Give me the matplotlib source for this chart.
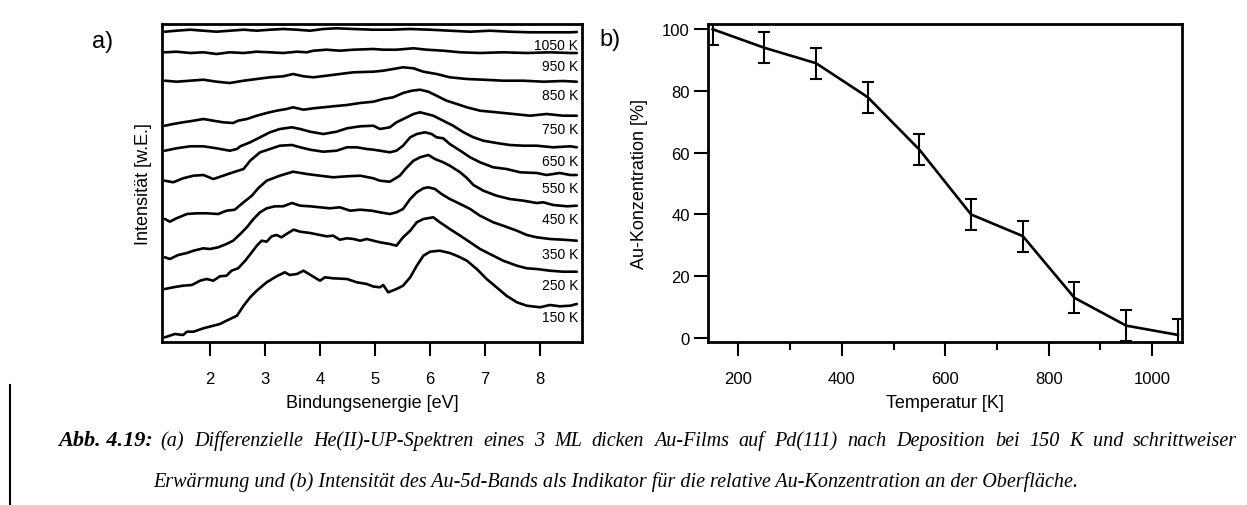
import matplotlib
matplotlib.use("Agg")
import matplotlib.pyplot as plt
from matplotlib.lines import Line2D

W, H = 1247, 506
plt.rcParams['font.family'] = ['Liberation Sans', 'DejaVu Sans']

# ---------------- (a) He(II)-UP difference spectra, stacked ----------------
temperatures = [150, 250, 350, 450, 550, 650, 750, 850, 950, 1050]

e_150 = [1.18, 1.36, 1.51, 1.58, 1.70, 1.88, 2.06, 2.18, 2.30, 2.49, 2.61, 2.73, 2.85, 3.03, 3.21, 3.36, 3.45,
         3.58, 3.70, 3.85, 4.00, 4.09, 4.24, 4.49, 4.67, 4.85, 4.97, 5.09, 5.15, 5.24, 5.39, 5.51, 5.64, 5.76,
         5.88, 6.00, 6.18, 6.36, 6.51, 6.67, 6.85, 7.03, 7.21, 7.39, 7.58, 7.76, 8.00, 8.18, 8.36, 8.55, 8.67]
i_150 = [4.7, 8.0, 7.0, 10.3, 10.3, 13.7, 16.3, 18.0, 21.3, 26.3, 36.3, 44.7, 51.3, 59.7, 65.7, 69.7, 67.0,
         68.0, 71.3, 66.3, 61.3, 64.7, 63.7, 63.0, 59.7, 58.0, 55.5, 54.7, 57.0, 49.7, 53.0, 56.3, 64.7, 76.3,
         86.3, 90.3, 91.3, 89.0, 85.7, 81.3, 73.0, 63.0, 54.7, 46.3, 39.7, 36.3, 34.7, 37.0, 35.7, 36.3, 38.0]

e_250 = [1.18, 1.33, 1.51, 1.67, 1.82, 1.94, 2.06, 2.18, 2.30, 2.39, 2.51, 2.64, 2.76, 2.85, 2.94, 3.03, 3.12,
         3.21, 3.30, 3.39, 3.52, 3.64, 3.82, 4.00, 4.12, 4.24, 4.36, 4.49, 4.61, 4.73, 4.85, 4.97, 5.09, 5.27,
         5.39, 5.51, 5.64, 5.76, 5.88, 6.06, 6.18, 6.36, 6.55, 6.73, 6.91, 7.15, 7.33, 7.58, 7.76, 7.94, 8.18,
         8.42, 8.67]
i_250 = [53.0, 54.7, 56.3, 57.0, 61.3, 63.0, 61.3, 65.7, 66.3, 71.3, 73.7, 81.3, 89.7, 96.3, 101.3, 100.3,
         105.7, 107.0, 104.7, 108.0, 112.3, 110.3, 109.0, 107.0, 105.7, 106.3, 102.3, 103.7, 103.0, 101.3,
         103.0, 101.3, 99.7, 98.0, 96.3, 104.7, 111.3, 119.7, 123.0, 124.7, 119.7, 113.0, 106.3, 99.7, 93.0,
         86.3, 81.3, 76.3, 73.7, 73.0, 71.3, 70.3, 70.3]

e_350 = [1.18, 1.27, 1.42, 1.58, 1.70, 1.88, 2.00, 2.15, 2.30, 2.42, 2.55, 2.67, 2.79, 2.91, 3.03, 3.18, 3.33,
         3.49, 3.64, 3.82, 4.00, 4.18, 4.36, 4.55, 4.73, 4.94, 5.09, 5.27, 5.39, 5.51, 5.64, 5.76, 5.88, 5.97,
         6.09, 6.21, 6.36, 6.55, 6.73, 6.91, 7.15, 7.33, 7.58, 7.76, 7.94, 8.18, 8.42, 8.67]
i_350 = [84.7, 83.0, 87.0, 89.0, 91.3, 93.7, 93.0, 94.7, 98.0, 101.3, 108.0, 114.7, 123.0, 129.7, 133.7,
         135.7, 135.7, 139.0, 136.3, 135.7, 134.7, 133.7, 134.7, 131.3, 132.3, 131.3, 129.7, 128.0, 129.7,
         133.0, 143.0, 149.7, 153.7, 154.7, 153.0, 148.0, 143.0, 138.0, 133.0, 126.3, 119.7, 116.3, 111.3,
         107.0, 104.7, 103.0, 102.3, 101.3]

e_450 = [1.18, 1.27, 1.39, 1.58, 1.76, 1.94, 2.15, 2.30, 2.45, 2.61, 2.76, 2.88, 3.03, 3.27, 3.51, 3.76, 4.00,
         4.24, 4.49, 4.73, 4.97, 5.09, 5.27, 5.45, 5.58, 5.70, 5.82, 5.97, 6.09, 6.24, 6.36, 6.55, 6.67, 6.79,
         6.97, 7.21, 7.45, 7.70, 7.94, 8.06, 8.24, 8.49, 8.67]
i_450 = [123.0, 120.3, 123.7, 128.0, 128.7, 128.7, 128.0, 131.3, 132.3, 139.7, 146.3, 154.0, 161.3, 166.3,
         170.3, 168.0, 166.3, 164.7, 165.7, 166.3, 163.7, 161.3, 160.3, 166.3, 174.7, 181.3, 184.7, 187.0,
         183.0, 179.7, 176.3, 169.7, 164.0, 157.0, 151.3, 146.3, 143.0, 141.3, 139.0, 139.7, 137.0, 135.7,
         136.3]

e_550 = [1.18, 1.33, 1.51, 1.70, 1.88, 2.06, 2.24, 2.42, 2.61, 2.73, 2.91, 3.09, 3.27, 3.49, 3.64, 3.82, 4.06,
         4.30, 4.49, 4.67, 4.85, 4.97, 5.09, 5.27, 5.39, 5.51, 5.64, 5.76, 5.91, 6.03, 6.12, 6.24, 6.36, 6.55,
         6.73, 6.91, 7.15, 7.39, 7.64, 7.94, 8.12, 8.36, 8.55, 8.67]
i_550 = [161.3, 159.7, 163.7, 166.3, 167.0, 163.0, 166.3, 169.7, 173.0, 181.3, 189.7, 193.0, 196.3, 197.0,
         194.7, 192.3, 190.3, 191.3, 194.7, 194.7, 193.0, 192.3, 191.3, 189.7, 191.3, 196.3, 204.7, 208.0,
         209.7, 208.0, 204.7, 203.7, 198.0, 191.3, 184.7, 179.7, 174.7, 173.0, 169.7, 169.0, 167.0, 169.0,
         167.0, 167.0]

e_650 = [1.18, 1.39, 1.64, 1.88, 2.12, 2.36, 2.49, 2.55, 2.73, 2.91, 3.09, 3.27, 3.49, 3.64, 3.82, 4.06, 4.30,
         4.49, 4.73, 4.97, 5.09, 5.27, 5.39, 5.58, 5.70, 5.82, 5.94, 6.06, 6.24, 6.42, 6.61, 6.79, 6.97, 7.21,
         7.45, 7.70, 7.94, 8.24, 8.55, 8.67]
i_650 = [191.3, 193.7, 195.7, 195.7, 193.7, 191.3, 193.0, 195.7, 199.7, 204.7, 209.7, 213.0, 214.7, 213.0,
         210.3, 208.0, 210.3, 213.7, 215.7, 216.3, 213.0, 214.7, 219.7, 224.7, 228.0, 229.7, 228.0, 226.3,
         221.3, 216.3, 209.7, 204.7, 201.3, 199.0, 197.0, 196.3, 196.3, 194.7, 195.7, 194.7]

e_750 = [1.18, 1.33, 1.51, 1.70, 1.88, 2.06, 2.24, 2.42, 2.51, 2.67, 2.85, 3.03, 3.21, 3.39, 3.51, 3.70, 3.88,
         4.06, 4.24, 4.49, 4.73, 4.97, 5.15, 5.33, 5.51, 5.67, 5.82, 5.97, 6.12, 6.30, 6.49, 6.67, 6.91, 7.21,
         7.52, 7.82, 8.12, 8.42, 8.67]
i_750 = [216.3, 218.0, 219.7, 221.3, 223.0, 221.3, 219.7, 219.0, 221.3, 223.0, 226.3, 229.0, 231.3, 233.0,
         234.7, 232.3, 233.7, 234.7, 235.7, 237.0, 239.0, 240.3, 243.0, 244.7, 249.0, 251.3, 252.3, 250.3,
         246.3, 241.3, 238.0, 234.7, 231.3, 229.7, 228.0, 226.3, 228.0, 226.3, 226.3]

e_850 = [1.18, 1.39, 1.64, 1.88, 2.12, 2.36, 2.61, 2.85, 3.09, 3.33, 3.51, 3.70, 3.88, 4.12, 4.36, 4.61, 4.97,
         5.15, 5.33, 5.51, 5.70, 5.88, 6.12, 6.36, 6.67, 6.97, 7.33, 7.70, 8.06, 8.42, 8.67]
i_850 = [261.3, 260.3, 261.3, 262.3, 260.3, 259.0, 261.3, 263.0, 264.7, 265.7, 268.0, 265.7, 264.7, 266.3,
         268.0, 269.7, 270.3, 271.3, 273.0, 274.7, 273.7, 270.3, 268.0, 264.7, 263.0, 262.3, 261.3, 261.3,
         260.3, 261.0, 260.3]

e_950 = [1.18, 1.39, 1.64, 1.88, 2.12, 2.36, 2.61, 2.85, 3.09, 3.33, 3.58, 3.76, 3.88, 4.12, 4.36, 4.61, 4.97,
         5.15, 5.39, 5.70, 5.94, 6.24, 6.55, 6.91, 7.33, 7.76, 8.18, 8.55, 8.67]
i_950 = [289.7, 290.3, 289.0, 289.7, 288.0, 289.7, 289.0, 290.3, 289.7, 289.0, 290.3, 289.7, 291.3, 292.3,
         291.3, 292.3, 293.0, 292.3, 292.3, 293.7, 292.3, 291.3, 289.7, 289.0, 289.7, 289.0, 289.7, 289.0,
         289.0]

e_1050 = [1.18, 1.39, 1.64, 1.88, 2.12, 2.36, 2.61, 2.85, 3.09, 3.33, 3.58, 3.82, 4.06, 4.30, 4.61, 4.97, 5.27,
          5.64, 6.00, 6.36, 6.73, 7.09, 7.45, 7.82, 8.18, 8.55, 8.67]
i_1050 = [310.3, 311.3, 312.3, 311.3, 310.3, 311.3, 312.3, 311.3, 312.3, 313.0, 312.3, 311.3, 313.0, 313.7,
          313.0, 312.3, 312.3, 313.0, 312.3, 311.3, 310.3, 311.3, 310.3, 309.7, 309.7, 309.7, 310.0]

spectra = {150: (e_150, i_150), 250: (e_250, i_250), 350: (e_350, i_350), 450: (e_450, i_450),
           550: (e_550, i_550), 650: (e_650, i_650), 750: (e_750, i_750), 850: (e_850, i_850),
           950: (e_950, i_950), 1050: (e_1050, i_1050)}
energy_ticks = [2, 3, 4, 5, 6, 7, 8]

# ---------------- (b) Au concentration vs. annealing temperature ----------------
anneal_temp = [150, 250, 350, 450, 550, 650, 750, 850, 950, 1050]
au_conc = [100, 94, 89, 78, 61, 40, 33, 13, 4, 1]
au_err = [5, 5, 5, 5, 5, 5, 5, 5, 5, 5]
temp_major = [200, 400, 600, 800, 1000]
temp_minor = [300, 500, 700, 900]
conc_ticks = [0, 20, 40, 60, 80, 100]

fig = plt.figure(figsize=(W / 100, H / 100), dpi=100)
ax_a = fig.add_axes([162 / W, 1 - 343 / H, 420 / W, 318 / H])
ax_b = fig.add_axes([708 / W, 1 - 343 / H, 474 / W, 318 / H])

for T in temperatures:
    e, inten = spectra[T]
    ax_a.plot(e, inten, color='black', lw=1.9, solid_joinstyle='round', solid_capstyle='round')
    ax_a.text(8.70, inten[-1] - 13.5, f"{T} K", ha='right', va='center', fontsize=10)

ax_a.set_xlim(1.127, 8.764)
ax_a.set_ylim(0, 318)
ax_a.set_xticks(energy_ticks)
ax_a.set_yticks([])
ax_a.tick_params(axis='x', direction='out', length=10, width=1.5, pad=11, labelsize=12)
ax_a.set_xlabel('Bindungsenergie [eV]', fontsize=13, labelpad=6)

ax_b.plot(anneal_temp, au_conc, color='black', lw=1.9)
ax_b.errorbar(anneal_temp, au_conc, yerr=au_err, fmt='none', ecolor='black',
              elinewidth=1.5, capsize=4.5, capthick=1.5)
ax_b.set_xlim(141, 1058)
ax_b.set_ylim(-1.3, 101.7)
ax_b.set_xticks(temp_major)
ax_b.set_xticks(temp_minor, minor=True)
ax_b.set_yticks(conc_ticks)
ax_b.tick_params(axis='both', which='major', direction='out', length=10, width=1.5, labelsize=12)
ax_b.tick_params(axis='x', which='major', pad=11)
ax_b.tick_params(axis='y', which='major', pad=3)
ax_b.tick_params(axis='x', which='minor', direction='out', length=6, width=1.5)
ax_b.set_xlabel('Temperatur [K]', fontsize=13, labelpad=6)

for ax in (ax_a, ax_b):
    for s in ax.spines.values():
        s.set_linewidth(2)

fig.text(143 / W, 1 - 184 / H, 'Intensität [w.E.]', rotation=90, ha='center', va='center', fontsize=13)
fig.text(640 / W, 1 - 184 / H, 'Au-Konzentration [%]', rotation=90, ha='center', va='center', fontsize=13)
fig.text(103 / W, 1 - 42 / H, 'a)', ha='center', va='center', fontsize=17)
fig.text(610 / W, 1 - 40 / H, 'b)', ha='center', va='center', fontsize=17)

# ---------------- caption with justified first line ----------------
fig.add_artist(Line2D([10 / W, 10 / W], [0, 1 - 386 / H], color='black', lw=1.5))

cap_kw = dict(family='Liberation Serif', style='italic', fontsize=14.5, va='baseline', ha='left')
fig.canvas.draw()
renderer = fig.canvas.get_renderer()

y1, y2 = 446, 487
t_abb = fig.text(58 / W, 1 - y1 / H, 'Abb. 4.19:', weight='bold', **{**cap_kw, 'fontsize': 16})
x_start = 58 + t_abb.get_window_extent(renderer).width + 8
x_end = 1237

line1 = "(a) Differenzielle He(II)-UP-Spektren eines 3 ML dicken Au-Films auf Pd(111) " \
        "nach Deposition bei 150 K und schrittweiser"
words = line1.split()
texts = [fig.text(0, 1 - y1 / H, w, **cap_kw) for w in words]
widths = [t.get_window_extent(renderer).width for t in texts]
gap = (x_end - x_start - sum(widths)) / (len(words) - 1)
x = x_start
for t, w in zip(texts, widths):
    t.set_x(x / W)
    x += w + gap

line2 = "Erwärmung und (b) Intensität des Au-5d-Bands als Indikator für die relative " \
        "Au-Konzentration an der Oberfläche."
fig.text((x_start - 8) / W, 1 - y2 / H, line2, **cap_kw)

fig.savefig('out.png', dpi=100)
